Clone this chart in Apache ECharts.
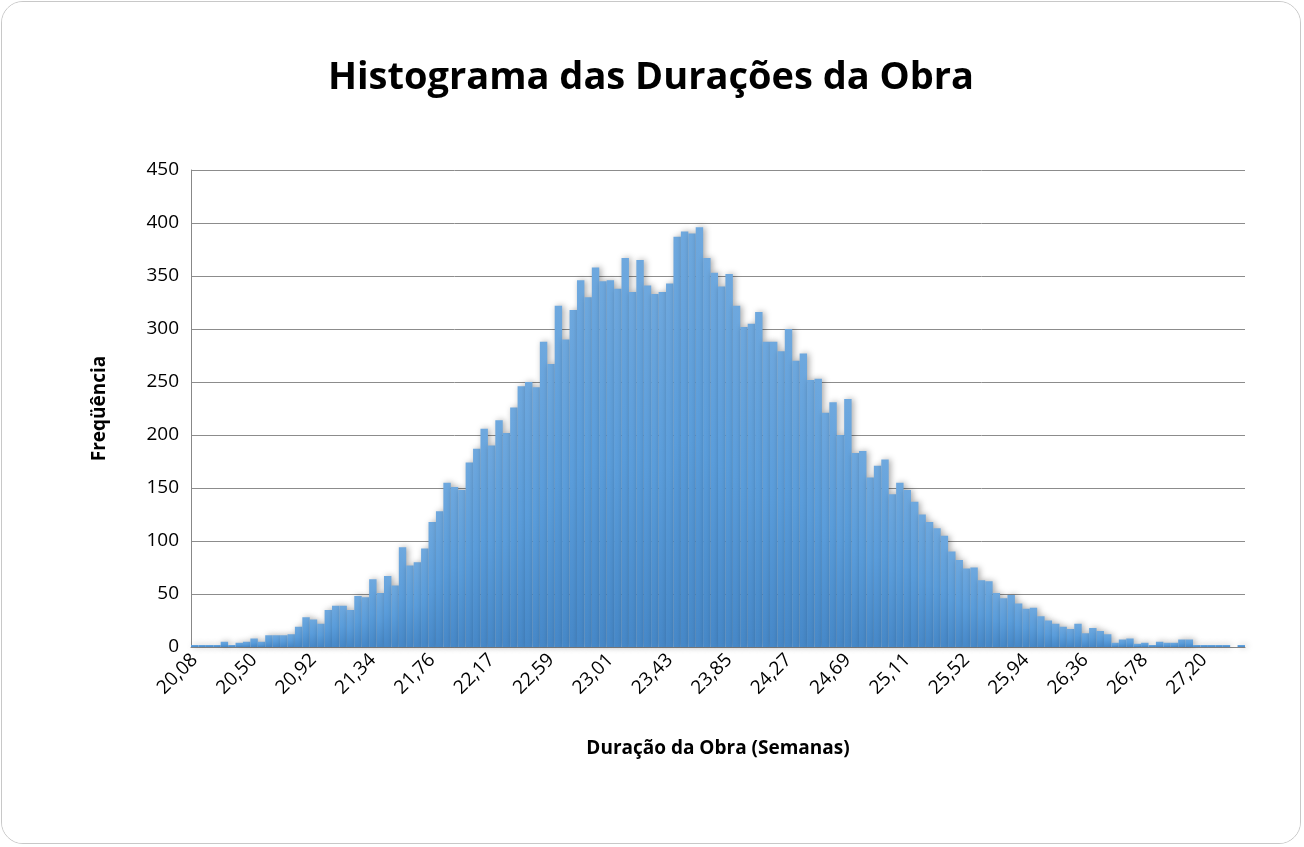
<!DOCTYPE html>
<html>
<head>
<meta charset="UTF-8">
<script src="https://cdn.jsdelivr.net/npm/echarts@6/dist/echarts.min.js"></script>
<style>
    html, body { margin: 0; padding: 0; background: #fff; }
    #frame { position: absolute; left: 1px; top: 1px; width: 1300px; height: 843px;
             border: 1px solid #c8c8c8; border-radius: 22px; box-sizing: border-box; overflow: hidden; }
    #histograma { width: 100%; height: 100%; }
</style>
</head>
<body>
<div id="frame"><div id="histograma"></div></div>
<script>
    /*dados do histograma*/
    var inicio = 20.08;
    var larguraClasse = 0.05235;
    var frequencias = [
        2, 2, 2, 2, 5, 2, 4, 5, 8, 5, 11, 11, 11, 12, 19, 28, 26, 22, 35, 39,
        39, 35, 48, 47, 64, 51, 67, 58, 94, 77, 80, 93, 118, 128, 155, 151, 148, 174, 187, 206,
        190, 214, 202, 226, 246, 250, 245, 288, 267, 322, 290, 318, 346, 330, 358, 345, 346, 338, 367, 335,
        365, 341, 333, 335, 343, 387, 392, 390, 396, 367, 353, 340, 352, 322, 302, 305, 316, 288, 288, 279,
        300, 270, 277, 252, 253, 221, 231, 200, 234, 183, 185, 160, 171, 177, 144, 155, 148, 137, 125, 118,
        112, 105, 90, 82, 74, 75, 63, 62, 51, 46, 49, 41, 36, 37, 29, 25, 22, 19, 17, 22,
        13, 18, 15, 12, 4, 7, 8, 3, 4, 2, 5, 4, 4, 7, 7, 2, 2, 2, 2, 2,
        0, 2
    ];
    var yTicks = [0, 50, 100, 150, 200, 250, 300, 350, 400, 450];

    var classes = frequencias.map(function (v, i) {
        return (inicio + i * larguraClasse).toFixed(2).replace('.', ',');
    });

    var chart = echarts.init(document.getElementById('histograma'));
    var option = {
        backgroundColor: '#fff',
        title: {
            text: 'Histograma das Durações da Obra',
            left: 'center',
            top: 52,
            textStyle: { fontFamily: 'Open Sans', fontWeight: 'bold', fontSize: 38, color: '#000' }
        },
        grid: { left: 189, right: 55, top: 168, bottom: 196 },
        xAxis: {
            type: 'category',
            data: classes,
            name: 'Duração da Obra (Semanas)',
            nameLocation: 'middle',
            nameGap: 92,
            nameTextStyle: { fontFamily: 'Open Sans', fontWeight: 'bold', fontSize: 19, color: '#000' },
            axisLine: { lineStyle: { color: '#888' } },
            axisTick: { interval: 0, length: 6, lineStyle: { color: '#888' } },
            axisLabel: { interval: 7, rotate: 45, fontFamily: 'Open Sans', fontSize: 19, color: '#000', margin: 10 }
        },
        yAxis: {
            type: 'value',
            min: yTicks[0],
            max: yTicks[yTicks.length - 1],
            interval: 50,
            name: 'Freqüência',
            nameLocation: 'middle',
            nameGap: 82,
            nameTextStyle: { fontFamily: 'Open Sans', fontWeight: 'bold', fontSize: 19, color: '#000' },
            axisLine: { show: true, lineStyle: { color: '#888' } },
            axisTick: { show: false },
            axisLabel: { fontFamily: 'Open Sans', fontSize: 19, color: '#000', margin: 12 },
            splitLine: { lineStyle: { color: '#8c8c8c' } }
        },
        series: [{
            type: 'bar',
            data: frequencias,
            barCategoryGap: 0,
            itemStyle: {
                color: new echarts.graphic.LinearGradient(0, 0, 0, 1, [
                    { offset: 0, color: '#6ea8de' },
                    { offset: 0.5, color: '#5a9ddb' },
                    { offset: 1, color: '#4688c8' }
                ]),
                shadowColor: 'rgba(0,0,0,0.35)',
                shadowBlur: 6,
                shadowOffsetX: 2,
                shadowOffsetY: 0
            }
        }]
    };
    chart.setOption(option);

    window.addEventListener('resize', function () {
        chart.resize();
    });
</script>
</body>
</html>
